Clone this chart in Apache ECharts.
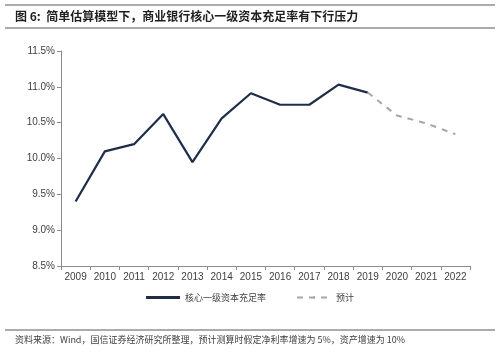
<!DOCTYPE html>
<html>
<head>
<meta charset="utf-8">
<style>
  html, body { margin: 0; padding: 0; background: #fff; }
  #main { width: 500px; height: 352px; }
</style>
<script src="https://cdn.jsdelivr.net/npm/echarts@6/dist/echarts.min.js"></script>
</head>
<body>
<div id="main"></div>
<script>
// 年份与核心一级资本充足率（%）
const years = ["2009", "2010", "2011", "2012", "2013", "2014", "2015", "2016", "2017", "2018", "2019", "2020", "2021", "2022"];
const actual = [9.40, 10.10, 10.20, 10.62, 9.95, 10.56, 10.91, 10.75, 10.75, 11.03, 10.92, null, null, null];
const forecast = [null, null, null, null, null, null, null, null, null, null, 10.92, 10.60, 10.49, 10.34];

const font = '"Liberation Sans", Arial, "Noto Sans CJK SC", sans-serif';
const cjk = '"Noto Sans CJK SC", sans-serif';

const chart = echarts.init(document.getElementById("main"), null, { renderer: "canvas" });

let option = {
  backgroundColor: "#fff",
  animation: false,
  grid: { left: 61, right: 30, top: 51, bottom: 86 },
  xAxis: {
    type: "category",
    data: years,
    boundaryGap: true,
    axisLine: { lineStyle: { color: "#8c8c8c", width: 1 } },
    axisTick: { show: true, alignWithLabel: false, length: 4, lineStyle: { color: "#8c8c8c" } },
    axisLabel: { color: "#404040", fontSize: 10, fontFamily: font, margin: 6 },
  },
  yAxis: {
    type: "value",
    min: 8.5,
    max: 11.5,
    interval: 0.5,
    axisLine: { show: true, lineStyle: { color: "#8c8c8c", width: 1 } },
    axisTick: { show: true, length: 4, lineStyle: { color: "#8c8c8c" } },
    splitLine: { show: false },
    axisLabel: {
      color: "#404040",
      fontSize: 10,
      fontFamily: font,
      margin: 6,
      formatter: (v) => v.toFixed(1) + "%",
    },
  },
  legend: {
    bottom: 45,
    left: "center",
    itemWidth: 34,
    itemHeight: 3,
    itemGap: 30,
    textStyle: { fontSize: 9, color: "#404040", fontFamily: cjk },
    data: [
      { name: "核心一级资本充足率", icon: "rect" },
      { name: "预计" },
    ],
  },
  series: [
    {
      name: "核心一级资本充足率",
      type: "line",
      data: actual,
      symbol: "none",
      lineStyle: { color: "#1f2c4a", width: 2.2 },
      itemStyle: { color: "#1f2c4a" },
    },
    {
      name: "预计",
      type: "line",
      data: forecast,
      symbol: "none",
      lineStyle: { color: "#a6a6a6", width: 2, type: [6, 6] },
      itemStyle: { color: "#a6a6a6" },
    },
  ],
  graphic: [
    { type: "line", shape: { x1: 5, y1: 5, x2: 495, y2: 5 }, style: { stroke: "#595959", lineWidth: 1 } },
    {
      type: "text",
      left: 15,
      top: 10,
      style: {
        text: "图 6:  简单估算模型下，商业银行核心一级资本充足率有下行压力",
        font: "bold 12px " + cjk,
        fill: "#1f1f1f",
      },
    },
    { type: "line", shape: { x1: 5, y1: 28, x2: 495, y2: 28 }, style: { stroke: "#595959", lineWidth: 1 } },
    { type: "line", shape: { x1: 5, y1: 330, x2: 495, y2: 330 }, style: { stroke: "#595959", lineWidth: 1 } },
    {
      type: "text",
      left: 15,
      top: 335,
      style: {
        text: "资料来源：Wind，国信证券经济研究所整理，预计测算时假定净利率增速为 5%，资产增速为 10%",
        font: "9px " + cjk,
        fill: "#404040",
      },
    },
  ],
};

if (chart) {
  chart.setOption(option);
}
</script>
</body>
</html>
